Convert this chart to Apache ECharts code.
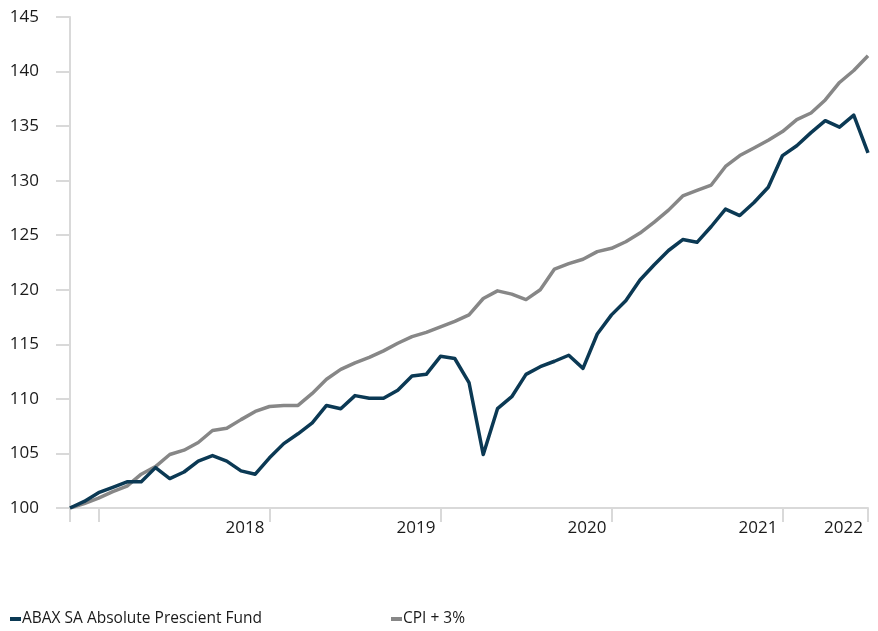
<!DOCTYPE html>
<html>
<head>
<meta charset="utf-8">
<script src="https://cdn.jsdelivr.net/npm/echarts@6/dist/echarts.min.js"></script>
<style>
html,body{margin:0;padding:0;background:#fff;}
#chart{width:878px;height:631px;}
</style>
</head>
<body>
<div id="chart"></div>
<script>
// Monthly observation points (index positions on the time axis)
var months = [
  'M00','M01','M02','M03','M04','M05','M06','M07','M08','M09',
  'M10','M11','M12','M13','M14','M15','M16','M17','M18','M19',
  'M20','M21','M22','M23','M24','M25','M26','M27','M28','M29',
  'M30','M31','M32','M33','M34','M35','M36','M37','M38','M39',
  'M40','M41','M42','M43','M44','M45','M46','M47','M48','M49',
  'M50','M51','M52','M53','M54','M55','M56'
];

var fundName = 'ABAX SA Absolute Prescient Fund';
var fundValues = [
  100.0, 100.6, 101.4, 101.9, 102.4, 102.4, 103.7, 102.7, 103.3, 104.3,
  104.8, 104.3, 103.4, 103.1, 104.6, 105.9, 106.8, 107.8, 109.4, 109.1,
  110.3, 110.05, 110.05, 110.8, 112.1, 112.25, 113.9, 113.7, 111.5, 104.9,
  109.1, 110.2, 112.25, 112.95, 113.45, 114.0, 112.8, 115.95, 117.7, 119.0,
  120.9, 122.3, 123.6, 124.6, 124.35, 125.8, 127.4, 126.8, 128.0, 129.4,
  132.3, 133.2, 134.4, 135.5, 134.9, 136.0, 132.55
];

var cpiName = 'CPI + 3%';
var cpiValues = [
  100.0, 100.4, 100.9, 101.5, 102.0, 103.1, 103.8, 104.9, 105.3, 106.0,
  107.1, 107.3, 108.1, 108.85, 109.3, 109.4, 109.4, 110.5, 111.8, 112.7,
  113.3, 113.8, 114.4, 115.1, 115.7, 116.1, 116.6, 117.1, 117.7, 119.2,
  119.9, 119.6, 119.1, 120.0, 121.9, 122.4, 122.8, 123.5, 123.8, 124.4,
  125.2, 126.2, 127.3, 128.6, 129.1, 129.6, 131.3, 132.3, 133.0, 133.7,
  134.5, 135.6, 136.2, 137.4, 139.0, 140.1, 141.45
];

var xTickIndex = [0, 2, 14, 26, 38, 50, 56];
var xLabelIndex = [14, 26, 38, 50, 56];
var xLabelText = ['2018', '2019', '2020', '2021', '2022'];

var yMin = 100, yMax = 145, yStep = 5;

var fundColor = '#0b3954';
var cpiColor = '#878787';
var axisColor = '#d9d9d9';
var textColor = '#1a1a1a';
var fontFamily = '"Open Sans", "Noto Sans", sans-serif';

var chart = echarts.init(document.getElementById('chart'), null, {renderer: 'canvas'});
chart.setOption({
  animation: false,
  backgroundColor: '#ffffff',
  grid: {left: 70, right: 10, top: 17, bottom: 123, containLabel: false},
  legend: [
    {
      left: 10, top: 611, itemWidth: 11, itemHeight: 4, itemGap: 0,
      icon: 'rect', padding: 0,
      data: [fundName],
      textStyle: {color: textColor, fontSize: 15.5, fontFamily: fontFamily, padding: [0,0,0,-4]}
    },
    {
      left: 391, top: 611, itemWidth: 11, itemHeight: 4, itemGap: 0,
      icon: 'rect', padding: 0,
      data: [cpiName],
      textStyle: {color: textColor, fontSize: 15.5, fontFamily: fontFamily, padding: [0,0,0,-4]}
    }
  ],
  xAxis: {
    type: 'category',
    data: months,
    boundaryGap: false,
    axisLine: {show: true, lineStyle: {color: axisColor, width: 2}},
    axisTick: {
      show: true, length: 14, inside: false,
      interval: function (i) { return xTickIndex.indexOf(i) >= 0; },
      lineStyle: {color: axisColor, width: 2}
    },
    axisLabel: {
      interval: function (i) { return xLabelIndex.indexOf(i) >= 0; },
      formatter: function (v, i) {
        var k = xLabelIndex.indexOf(i);
        return k >= 0 ? xLabelText[k] : '';
      },
      align: 'right',
      padding: [0, 5, 0, 0],
      margin: 12,
      color: textColor, fontSize: 17, fontFamily: fontFamily
    },
    splitLine: {show: false}
  },
  yAxis: {
    type: 'value',
    min: yMin, max: yMax, interval: yStep,
    axisLine: {show: true, lineStyle: {color: axisColor, width: 2}},
    axisTick: {show: true, length: 14, inside: false, lineStyle: {color: axisColor, width: 2}},
    axisLabel: {margin: 31, color: textColor, fontSize: 17, fontFamily: fontFamily},
    splitLine: {show: false}
  },
  series: [
    {
      name: cpiName, type: 'line', data: cpiValues,
      symbol: 'none', smooth: false, z: 2,
      lineStyle: {color: cpiColor, width: 3.5, join: 'round'},
      itemStyle: {color: cpiColor}
    },
    {
      name: fundName, type: 'line', data: fundValues,
      symbol: 'none', smooth: false, z: 3,
      lineStyle: {color: fundColor, width: 3.5, join: 'round'},
      itemStyle: {color: fundColor}
    }
  ]
});
</script>
</body>
</html>
